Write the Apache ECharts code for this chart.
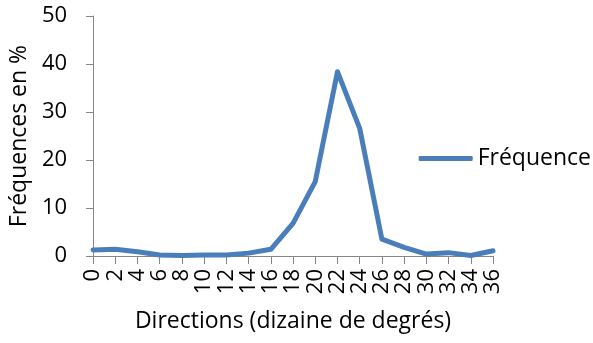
<!DOCTYPE html>
<html>
<head>
<meta charset="utf-8">
<script src="https://cdn.jsdelivr.net/npm/echarts@6/dist/echarts.min.js"></script>
<style>
html,body{margin:0;padding:0;background:#fff;}
#chart{width:593px;height:343px;}
</style>
</head>
<body>
<div id="chart"></div>
<script>
// Wind direction categories (tens of degrees)
const directions = ['0','2','4','6','8','10','12','14','16','18','20','22','24','26','28','30','32','34','36'];
// Frequency of each direction, in %
const frequence = [1.25, 1.4, 0.9, 0.2, 0.1, 0.2, 0.2, 0.6, 1.4, 6.8, 15.5, 38.4, 26.6, 3.5, 1.8, 0.4, 0.7, 0.1, 1.1];
const yTicks = [0, 10, 20, 30, 40, 50];

const FONT = 'Open Sans';
const axisGrey = '#868686';

const chart = echarts.init(document.getElementById('chart'));
chart.setOption({
  animation: false,
  textStyle: { fontFamily: FONT, color: '#000' },
  grid: { left: 90, right: 100, top: 16, bottom: 87, containLabel: false },
  legend: {
    data: ['Fréquence'],
    orient: 'vertical',
    right: 2,
    top: 147,
    padding: 0,
    icon: 'roundRect',
    itemWidth: 54,
    itemHeight: 5,
    textStyle: { fontFamily: FONT, fontSize: 23, color: '#000' }
  },
  xAxis: {
    type: 'category',
    data: directions,
    boundaryGap: false,
    name: 'Directions (dizaine de degrés)',
    nameLocation: 'middle',
    nameGap: 54,
    nameTextStyle: { fontFamily: FONT, fontSize: 23, color: '#000' },
    axisLine: { lineStyle: { color: axisGrey, width: 1 } },
    axisTick: { alignWithLabel: true, length: 8, lineStyle: { color: axisGrey } },
    axisLabel: { rotate: 90, fontSize: 22, color: '#000', margin: 13, interval: 0 },
    splitLine: { show: false }
  },
  yAxis: {
    type: 'value',
    min: yTicks[0],
    max: yTicks[yTicks.length - 1],
    interval: 10,
    name: 'Fréquences en %',
    nameLocation: 'middle',
    nameGap: 57,
    nameRotate: 90,
    nameTextStyle: { fontFamily: FONT, fontSize: 23, color: '#000' },
    axisLine: { show: true, lineStyle: { color: axisGrey, width: 1 } },
    axisTick: { show: true, length: 7, lineStyle: { color: axisGrey } },
    axisLabel: { fontSize: 22, color: '#000', margin: 26 },
    splitLine: { show: false }
  },
  series: [{
    name: 'Fréquence',
    type: 'line',
    data: frequence,
    showSymbol: false,
    symbol: 'none',
    lineStyle: { color: '#4a7ebb', width: 5, cap: 'round', join: 'round' },
    itemStyle: { color: '#4a7ebb' }
  }]
});
</script>
</body>
</html>
